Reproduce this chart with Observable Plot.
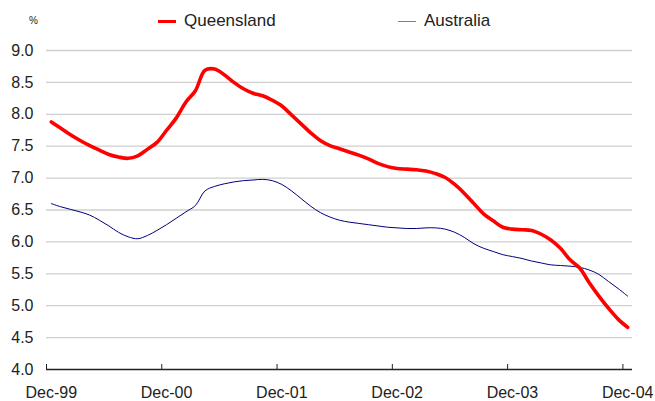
<!DOCTYPE html>
<html>
<head>
<meta charset="utf-8">
<script src="https://cdn.jsdelivr.net/npm/d3@7"></script>
<script src="https://cdn.jsdelivr.net/npm/@observablehq/plot@0.6"></script>
<style>
  html, body { margin: 0; padding: 0; background: #fff; }
  #wrap { position: relative; width: 655px; height: 401px; font-family: "Liberation Sans", Arial, sans-serif; color: #222; }
  #chart { position: absolute; left: 0; top: 0; }
  .leg { position: absolute; top: 11px; font-size: 17px; line-height: 20px; display: flex; align-items: center; }
  .sw { display: inline-block; width: 18px; margin-right: 8px; }
  #pct { position: absolute; left: 29px; top: 15px; font-size: 10px; }
</style>
</head>
<body>
<div id="wrap">
  <div id="chart"></div>
  <div id="pct">%</div>
  <div class="leg" style="left:158px"><span class="sw" style="border-top:3px solid #ff0000"></span>Queensland</div>
  <div class="leg" style="left:398px"><span class="sw" style="border-top:1.5px solid #7a7ac0"></span>Australia</div>
</div>
<script>
// Monthly observations, Dec-99 through Dec-04 (61 months)
const queensland = [
  7.88, 7.78, 7.68, 7.59, 7.51, 7.44, 7.37, 7.33, 7.31, 7.35, 7.45, 7.56,
  7.75, 7.94, 8.19, 8.37, 8.69, 8.71, 8.62, 8.50, 8.40, 8.33, 8.29, 8.22,
  8.13, 7.99, 7.85, 7.71, 7.59, 7.51, 7.46, 7.41, 7.36, 7.30, 7.23, 7.18,
  7.15, 7.14, 7.13, 7.11, 7.07, 7.01, 6.90, 6.76, 6.60, 6.44, 6.33, 6.23,
  6.20, 6.19, 6.18, 6.12, 6.03, 5.90, 5.72, 5.59, 5.36, 5.15, 4.96, 4.79,
  4.66
];
const australia = [
  6.60, 6.55, 6.51, 6.47, 6.42, 6.34, 6.25, 6.15, 6.08, 6.05, 6.10, 6.18,
  6.27, 6.37, 6.47, 6.57, 6.80, 6.87, 6.91, 6.94, 6.96, 6.97, 6.98, 6.96,
  6.90, 6.80, 6.68, 6.56, 6.46, 6.39, 6.34, 6.31, 6.29, 6.27, 6.25, 6.23,
  6.22, 6.21, 6.21, 6.22, 6.22, 6.20, 6.15, 6.07, 5.97, 5.90, 5.85, 5.80,
  5.77, 5.74, 5.70, 5.67, 5.64, 5.63, 5.62, 5.60, 5.56, 5.49, 5.38, 5.27,
  5.15
];
const xTickLabels = ["Dec-99", "Dec-00", "Dec-01", "Dec-02", "Dec-03", "Dec-04"];
const xLabelIndex = [0, 12, 24, 36, 48, 60];
const yTicks = [4.0, 4.5, 5.0, 5.5, 6.0, 6.5, 7.0, 7.5, 8.0, 8.5, 9.0];

const qld = queensland.map((v, i) => ({i, v}));
const aus = australia.map((v, i) => ({i, v}));
const tickMarks = xLabelIndex.map(i => i - 0.5);

const chart = Plot.plot({
  width: 655,
  height: 401,
  marginTop: 50,
  marginBottom: 32,
  marginLeft: 46,
  marginRight: 23,
  style: {fontFamily: "Liberation Sans, Arial, sans-serif", fontSize: "16px", color: "#222", background: "transparent"},
  x: {domain: [-0.5, queensland.length - 0.5]},
  y: {domain: [4, 9]},
  marks: [
    Plot.gridY(yTicks.slice(1), {stroke: "#cfcfcf", strokeOpacity: 1, strokeWidth: 1.3}),
    Plot.axisY(yTicks, {tickSize: 0, tickPadding: 13, tickFormat: d => d.toFixed(1), label: null}),
    Plot.axisX(xLabelIndex, {tickSize: 0, tickPadding: 17, tickFormat: (d, k) => xTickLabels[k], label: null}),
    Plot.axisX(tickMarks, {tickSize: -5, tickFormat: () => "", label: null, stroke: "#222"}),
    Plot.ruleY([4], {stroke: "#222", strokeWidth: 1.3}),
    Plot.line(aus, {x: "i", y: "v", stroke: "#000080", strokeWidth: 1, curve: "catmull-rom"}),
    Plot.line(qld, {x: "i", y: "v", stroke: "#ff0000", strokeWidth: 3.6, curve: "catmull-rom"})
  ]
});
document.getElementById("chart").appendChild(chart);
</script>
</body>
</html>
